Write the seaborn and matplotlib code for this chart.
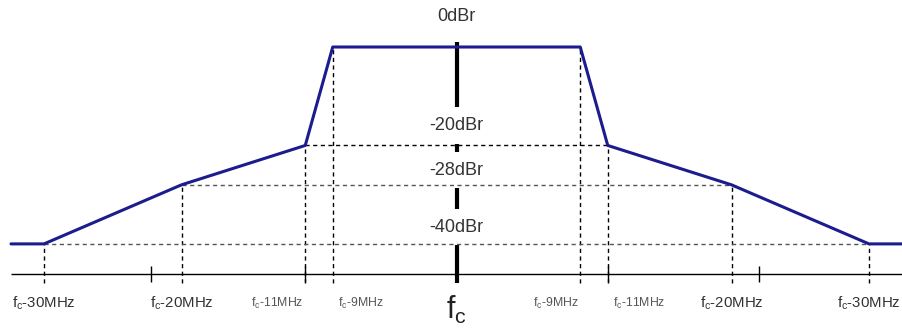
import numpy as np
import seaborn as sns
import matplotlib.pyplot as plt

# =========================
# Data (offsets from fc in MHz, levels in dBr)
# =========================
mask_freq = [-32.4, -30, -20, -11, -9, 9, 11, 20, 30, 32.6]
mask_db = [-40, -40, -28, -20, 0, 0, -20, -28, -40, -40]

# breakpoints with dashed drop lines
break_freq = [-30, -20, -11, -9, 9, 11, 20, 30]
break_db = [-40, -28, -20, 0, 0, -20, -28, -40]

# reference levels (horizontal dashed), with their extent
level_db = [-20, -28, -40]
level_half_width = [11, 20, 30]
level_labels = ["-20dBr", "-28dBr", "-40dBr"]
level_label_y = [-15.9, -25.0, -36.6]

# extra solid ticks on the frequency axis
tick_freq = [-22.2, -11, 11, 22.0]

tick_labels = [r"$\mathregular{f_c}$-30MHz", r"$\mathregular{f_c}$-20MHz",
               r"$\mathregular{f_c}$-11MHz", r"$\mathregular{f_c}$-9MHz",
               r"$\mathregular{f_c}$-9MHz", r"$\mathregular{f_c}$-11MHz",
               r"$\mathregular{f_c}$-20MHz", r"$\mathregular{f_c}$-30MHz"]
tick_ha = ["center", "center", "right", "left", "right", "left", "center", "center"]
tick_small = [False, False, True, True, True, True, False, False]

axis_db = -46.1

# =========================
# Plot
# =========================
sns.set_style("white")
plt.rcParams["font.family"] = ["Liberation Sans", "DejaVu Sans"]

fig = plt.figure(figsize=(9.02, 3.32), dpi=100)
ax = fig.add_axes([0, 0, 1, 1])
ax.set_xlim(-33.2, 32.4)
ax.set_ylim(-57.9, 9.55)
ax.axis("off")

# frequency axis
ax.hlines(axis_db, -32.4, 32.6, color="black", lw=1.0, zorder=2)
ax.vlines(tick_freq, axis_db - 1.6, axis_db + 1.6, color="black", lw=1.0, zorder=2)

# centre line at fc
ax.vlines(0, axis_db - 1.8, 1.0, color="black", lw=3.0, zorder=1)

# drop lines and level lines
ax.vlines(break_freq, [axis_db - 1.9] * len(break_freq), break_db,
          color="black", lw=1.0, linestyles=(0, (3, 2.5)), zorder=4)
for lv, hw in zip(level_db, level_half_width):
    col = "black" if lv == -20 else "#555555"
    ax.hlines(lv, -hw, hw, color=col, lw=1.0, linestyles=(0, (3, 2.5)), zorder=4)

# spectral mask
sns.lineplot(x=mask_freq, y=mask_db, sort=False, color="#1c1c8e", lw=2.2,
             ax=ax, zorder=5)

# level labels
ax.text(0, 6.1, "0dBr", ha="center", va="center", fontsize=13, color="#333333",
        zorder=3, bbox=dict(facecolor="white", edgecolor="none", pad=2))
for txt, y in zip(level_labels, level_label_y):
    ax.text(0, y, txt, ha="center", va="center", fontsize=13, color="#333333",
            zorder=3, bbox=dict(facecolor="white", edgecolor="none", pad=7))

# frequency labels
for f, txt, ha, small in zip(break_freq, tick_labels, tick_ha, tick_small):
    dx = 0.35 if ha == "left" else (-0.15 if ha == "right" else 0)
    ax.text(f + dx, -52.0, txt, ha=ha, va="center",
            fontsize=8.8 if small else 10.8,
            color="#555555" if small else "#333333")

ax.text(0, -53.5, r"$\mathregular{f_c}$", ha="center", va="center",
        fontsize=22, color="#222222")

fig.savefig("out.png", dpi=100)
